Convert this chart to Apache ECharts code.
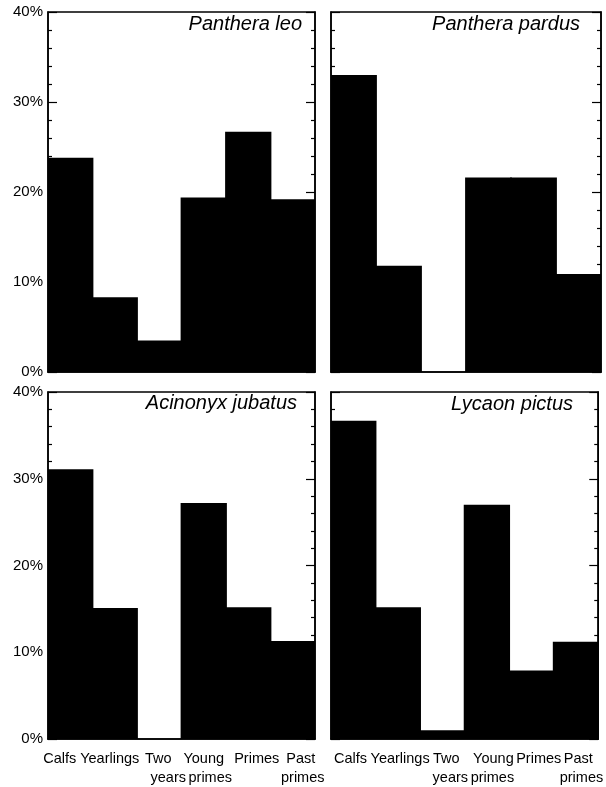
<!DOCTYPE html>
<html>
<head>
<meta charset="utf-8">
<script src="https://cdn.jsdelivr.net/npm/echarts@6/dist/echarts.min.js"></script>
<style>
html,body{margin:0;padding:0;background:#fff;}
#chart{width:606px;height:787px;}
</style>
</head>
<body>
<div id="chart"></div>
<script>
// ---- data ----
const categories = ['Calfs', 'Yearlings', 'Two\nyears', 'Young\nprimes', 'Primes', 'Past\nprimes'];
const species = ['Panthera leo', 'Panthera pardus', 'Acinonyx jubatus', 'Lycaon pictus'];
const pantheraLeo = [23.8, 8.3, 3.5, 19.4, 26.7, 19.2];
const pantheraPardus = [33.0, 11.8, 0, 21.6, 21.6, 10.9];
const acinonyxJubatus = [31.1, 15.1, 0, 27.2, 15.2, 11.3];
const lycaonPictus = [36.7, 15.2, 1.0, 27.0, 7.9, 11.2];
const yTickValues = [0, 10, 20, 30, 40];
const yTickLabels = ['0%', '10%', '20%', '30%', '40%'];

const seriesData = [pantheraLeo, pantheraPardus, acinonyxJubatus, lycaonPictus];

// ---- layout (positions / styles only) ----
const FONT = '"Liberation Sans", Arial, Helvetica, sans-serif';
// horizontal nudges of each label line relative to its bar centre: [line1, line2]
const nudgeLeft = [[-10.5, 0], [-5, 0], [-1, 9], [0, 6.5], [8.5, 0], [8, 10]];
const nudgeRight = [[-2.7, 0], [2.3, 0], [4, 8], [6.5, 5.5], [7.3, 0], [2.3, 5.5]];
const panels = [
  { left: 48, right: 291, top: 12, bottom: 415, yLabels: true, xLabels: false, titleRight: 299, titleTop: 9, nudge: nudgeLeft },
  { left: 331, right: 5, top: 12, bottom: 415, yLabels: false, xLabels: false, titleRight: 21, titleTop: 9, nudge: nudgeRight },
  { left: 48, right: 291, top: 392, bottom: 45, yLabels: true, xLabels: true, titleRight: 304, titleTop: 388, nudge: nudgeLeft },
  { left: 331, right: 5, top: 392, bottom: 45, yLabels: false, xLabels: true, titleRight: 28, titleTop: 389, nudge: nudgeRight }
];

function padFor(dx) {
  return dx >= 0 ? [0, 0, 0, 2 * dx] : [0, -2 * dx, 0, 0];
}

const grid = [], xAxis = [], yAxis = [], series = [], title = [];
panels.forEach((p, i) => {
  grid.push({ left: p.left, right: p.right, top: p.top, bottom: p.bottom, show: true,
    borderColor: '#000', borderWidth: 1.5, backgroundColor: 'transparent', containLabel: false });
  const rich = {};
  p.nudge.forEach((n, k) => {
    rich['a' + k] = { padding: padFor(n[0]), fontSize: 14.5, fontFamily: FONT, color: '#000', lineHeight: 19 };
    rich['b' + k] = { padding: padFor(n[1]), fontSize: 14.5, fontFamily: FONT, color: '#000', lineHeight: 19 };
  });
  xAxis.push({
    type: 'category', gridIndex: i, data: categories, boundaryGap: true,
    axisLine: { show: true, lineStyle: { color: '#000', width: 1.5 } },
    axisTick: { show: false },
    axisLabel: { show: p.xLabels, interval: 0, color: '#000', fontFamily: FONT, fontSize: 14.5,
      lineHeight: 19, margin: 10, rich: rich,
      formatter: (v, idx) => {
        const lines = v.split('\n');
        let s = '{a' + idx + '|' + lines[0] + '}';
        if (lines[1]) s += '\n{b' + idx + '|' + lines[1] + '}';
        return s;
      } },
    splitLine: { show: false }
  });
  const yCommon = {
    type: 'value', gridIndex: i, min: 0, max: 40, interval: 10,
    axisLine: { show: true, lineStyle: { color: '#000', width: 1.5 } },
    axisTick: { show: true, inside: true, length: 9, lineStyle: { color: '#000', width: 1.2 } },
    minorTick: { show: true, splitNumber: 5, length: 4, lineStyle: { color: '#000', width: 1.2 } },
    splitLine: { show: false }
  };
  yAxis.push(Object.assign({}, yCommon, {
    position: 'left',
    axisLabel: { show: p.yLabels, color: '#000', fontFamily: FONT, fontSize: 15, margin: 5,
      formatter: v => yTickLabels[yTickValues.indexOf(v)] }
  }));
  yAxis.push(Object.assign({}, yCommon, { position: 'right', axisLabel: { show: false } }));
  series.push({
    type: 'bar', xAxisIndex: i, yAxisIndex: i * 2, data: seriesData[i],
    barWidth: '104%', barCategoryGap: '0%',
    itemStyle: { color: '#000', borderColor: '#000', borderWidth: 0 },
    silent: true, animation: false
  });
  title.push({ text: species[i], right: p.titleRight, top: p.titleTop,
    textStyle: { fontFamily: FONT, fontStyle: 'italic', fontWeight: 'normal', fontSize: 20, color: '#000' } });
});

const chart = echarts.init(document.getElementById('chart'), null, { renderer: 'canvas' });
chart.setOption({ animation: false, backgroundColor: '#fff', title, grid, xAxis, yAxis, series });
</script>
</body>
</html>
